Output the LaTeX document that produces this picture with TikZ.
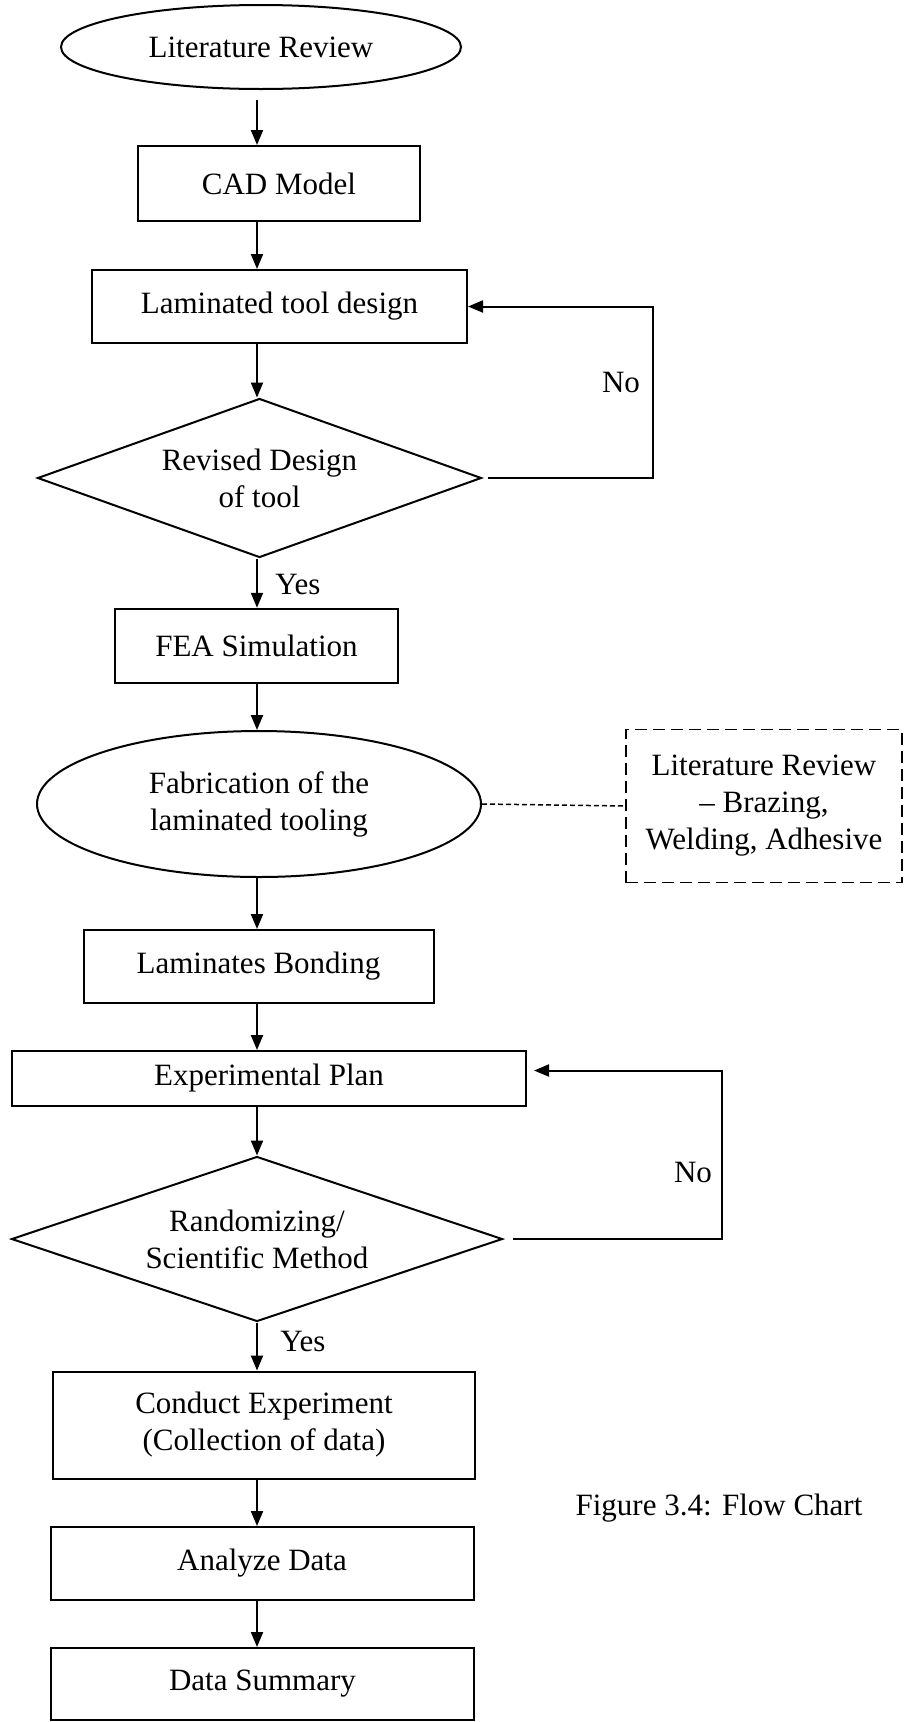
\documentclass[tikz,border=0pt]{standalone}
\usepackage{fontspec}
\setmainfont{Liberation Serif}
\usetikzlibrary{shapes.geometric,arrows.meta}
\begin{document}
\begin{tikzpicture}[x=1pt,y=-1pt,
  every node/.style={font=\fontsize{31}{37}\selectfont, align=center, inner sep=0pt},
  proc/.style={draw, line width=2pt, rectangle},
  oval/.style={draw, line width=2pt, ellipse},
  decide/.style={draw, line width=2pt, diamond},
  arr/.style={line width=2pt, -{Triangle[length=15pt,width=12pt]}},
  note/.style={draw, line width=1.6pt, dash pattern=on 12pt off 6pt},
  link/.style={line width=1.5pt, dash pattern=on 5pt off 3pt}]
\useasboundingbox (0,0) rectangle (904,1722);
\coordinate (ax) at (257,0);
\coordinate (r1) at (653,0);
\coordinate (r2) at (722,0);
\node[oval, minimum width=400pt, minimum height=84pt] (lit) at (261,47) {Literature Review};
\node[proc, minimum width=282pt, minimum height=75pt] (cad) at (279,183.5) {CAD Model};
\node[proc, minimum width=375pt, minimum height=73pt] (ltd) at (279.5,306.5) {Laminated tool design};
\node[decide, minimum width=444pt, minimum height=159pt, aspect=2.79] (d1) at (259.5,478) {Revised Design\\of tool};
\node[proc, minimum width=283pt, minimum height=74.5pt] (fea) at (256.5,646) {FEA Simulation};
\node[oval, minimum width=444pt, minimum height=146pt] (fab) at (259,804) {Fabrication of the\\laminated tooling};
\node[note, minimum width=276pt, minimum height=153pt] (lit2) at (764,806) {Literature Review\\– Brazing,\\Welding, Adhesive};
\node[proc, minimum width=350pt, minimum height=73pt] (lb) at (258.5,966.5) {Laminates Bonding};
\node[proc, minimum width=514pt, minimum height=55pt] (ep) at (269,1078.5) {Experimental Plan};
\node[decide, minimum width=491pt, minimum height=165pt, aspect=2.98] (d2) at (257,1239) {Randomizing/\\Scientific Method};
\node[proc, minimum width=422pt, minimum height=107pt] (ce) at (264,1425) {Conduct Experiment\\(Collection of data)};
\node[proc, minimum width=423pt, minimum height=73pt] (ad) at (262,1563.5) {Analyze Data};
\node[proc, minimum width=423pt, minimum height=72pt] (ds) at (262.5,1684) {Data Summary};
\node (cap) at (719,1508) {Figure 3.4: Flow Chart};
\node (no1) at (621,382) {No};
\node (no2) at (693,1172) {No};
\node (yes1) at (298,584) {Yes};
\node (yes2) at (303,1341) {Yes};
\draw[arr, shorten <=10pt] (lit.south -| ax) -- (cad.north -| ax);
\draw[arr] (cad.south -| ax) -- (ltd.north -| ax);
\draw[arr] (ltd.south -| ax) -- (d1.north -| ax);
\draw[arr] (d1.south -| ax) -- (fea.north -| ax);
\draw[arr] (fea.south -| ax) -- (fab.north -| ax);
\draw[arr] (fab.south -| ax) -- (lb.north -| ax);
\draw[arr] (lb.south -| ax) -- (ep.north -| ax);
\draw[arr] (ep.south -| ax) -- (d2.north -| ax);
\draw[arr] (d2.south -| ax) -- (ce.north -| ax);
\draw[arr] (ce.south -| ax) -- (ad.north -| ax);
\draw[arr] (ad.south -| ax) -- (ds.north -| ax);
\draw[arr] ([xshift=5pt]d1.east) -- (d1.east -| r1) -- (ltd.east -| r1) -- (ltd.east);
\coordinate (epin) at ([yshift=8pt]ep.east);
\draw[arr] ([xshift=9pt]d2.east) -- (d2.east -| r2) -- (epin -| r2) -- ([xshift=7pt]epin);
\draw[link] (fab.east) -- (lit2.west);
\end{tikzpicture}
\end{document}
